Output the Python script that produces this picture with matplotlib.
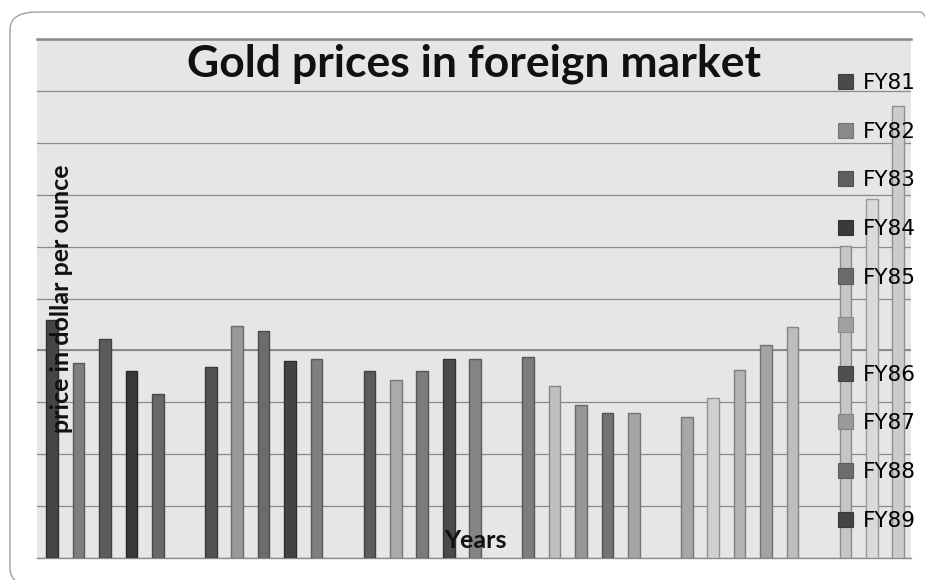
import matplotlib
matplotlib.use("Agg")
import matplotlib.pyplot as plt
from matplotlib.patches import Patch, FancyBboxPatch
import numpy as np

# ---- data (price in dollar per ounce) ----
group1 = [458, 376, 422, 361, 316]
group2 = [368, 447, 437, 380, 383]
group3 = [361, 343, 361, 383, 383]
group4 = [387, 331, 294, 279, 279]
group5 = [271, 308, 362, 410, 445]
group6 = [602, 692, 870]
groups = [group1, group2, group3, group4, group5, group6]

bar_colors = [
    ["#454545", "#7f7f7f", "#5b5b5b", "#383838", "#686868"],
    ["#515151", "#999999", "#6c6c6c", "#434343", "#7f7f7f"],
    ["#5c5c5c", "#aaaaaa", "#7b7b7b", "#4a4a4a", "#848484"],
    ["#7d7d7d", "#bfbfbf", "#969696", "#737373", "#a5a5a5"],
    ["#a7a7a7", "#d0d0d0", "#b3b3b3", "#a3a3a3", "#bdbdbd"],
    ["#c6c6c6", "#dadada", "#cccccc"],
]

legend_labels = ["FY81", "FY82", "FY83", "FY84", "FY85", "", "FY86", "FY87", "FY88", "FY89"]
legend_colors = ["#4a4a4a", "#8a8a8a", "#5e5e5e", "#3a3a3a", "#6a6a6a",
                 "#a0a0a0", "#4f4f4f", "#9a9a9a", "#6c6c6c", "#444444"]

title = "Gold prices in foreign market"
ylabel = "price in dollar per ounce"
xlabel = "Years"

W, H = 925, 580
fig = plt.figure(figsize=(W / 100, H / 100), dpi=100)
fig.patch.set_facecolor("white")

def fx(px):
    return px / W

def fy(py):
    return 1 - py / H

# outer rounded frame
frame = FancyBboxPatch((fx(10), fy(586)), fx(948) - fx(10), fy(12) - fy(586),
                       boxstyle="round,pad=0,rounding_size=0.03",
                       transform=fig.transFigure, facecolor="none",
                       edgecolor="#a0a0a0", linewidth=1.0, zorder=-1)
fig.patches.append(frame)

left, right, top, bottom = 37, 911, 39, 558
ax = fig.add_axes([fx(left), fy(bottom), fx(right) - fx(left), fy(top) - fy(bottom)])
ax.set_facecolor("#e6e6e6")

def darker(c, f=0.7):
    r, g, b = matplotlib.colors.to_rgb(c)
    return (r * f, g * f, b * f)

for gi, vals in enumerate(groups):
    for bi, v in enumerate(vals):
        x = gi * 6 + bi
        col = bar_colors[gi][bi]
        ax.bar(x, v, width=0.44, color=col, edgecolor=darker(col), linewidth=1.0, zorder=3)

ax.set_xlim(-0.57, 32.48)
ax.set_ylim(0, 1000)
ax.set_yticks(np.arange(0, 1001, 100))
ax.set_xticks([])
ax.tick_params(axis="y", length=0, labelleft=False)
ax.yaxis.grid(True, color="#8a8a8a", linewidth=0.9, zorder=1)
ax.set_axisbelow(True)
ax.axhline(400, color="#8a8a8a", linewidth=1.4, zorder=1.5)
for s in ["left", "right"]:
    ax.spines[s].set_visible(False)
ax.spines["top"].set_color("#888888")
ax.spines["top"].set_linewidth(1.8)
ax.spines["bottom"].set_color("#8a8a8a")
ax.spines["bottom"].set_linewidth(1.0)

handles = [Patch(facecolor=c, edgecolor=darker(c, 0.85), linewidth=0.8) for c in legend_colors]
leg = ax.legend(handles, legend_labels, loc="upper left",
                bbox_to_anchor=(fx(838), fy(73)), bbox_transform=fig.transFigure,
                frameon=False, prop={"family": ["Liberation Sans Narrow", "DejaVu Sans"], "size": 15.5},
                handlelength=0.7, handleheight=0.7, handletextpad=0.45,
                labelspacing=1.33, borderpad=0, borderaxespad=0)
leg.set_zorder(5)

fig.text(fx(474), fy(77), title, ha="center", va="baseline",
         fontsize=32, fontweight="bold", family=["Lato", "DejaVu Sans"], color="#111111")
fig.text(fx(62), fy(298.5), ylabel, rotation=90, ha="center", va="center",
         fontsize=18, fontweight="bold", family=["Lato", "DejaVu Sans"], color="#111111")
fig.text(fx(475), fy(548), xlabel, ha="center", va="baseline",
         fontsize=18, fontweight="bold", family=["Lato", "DejaVu Sans"], color="#111111")

fig.savefig("out.png", dpi=100)
